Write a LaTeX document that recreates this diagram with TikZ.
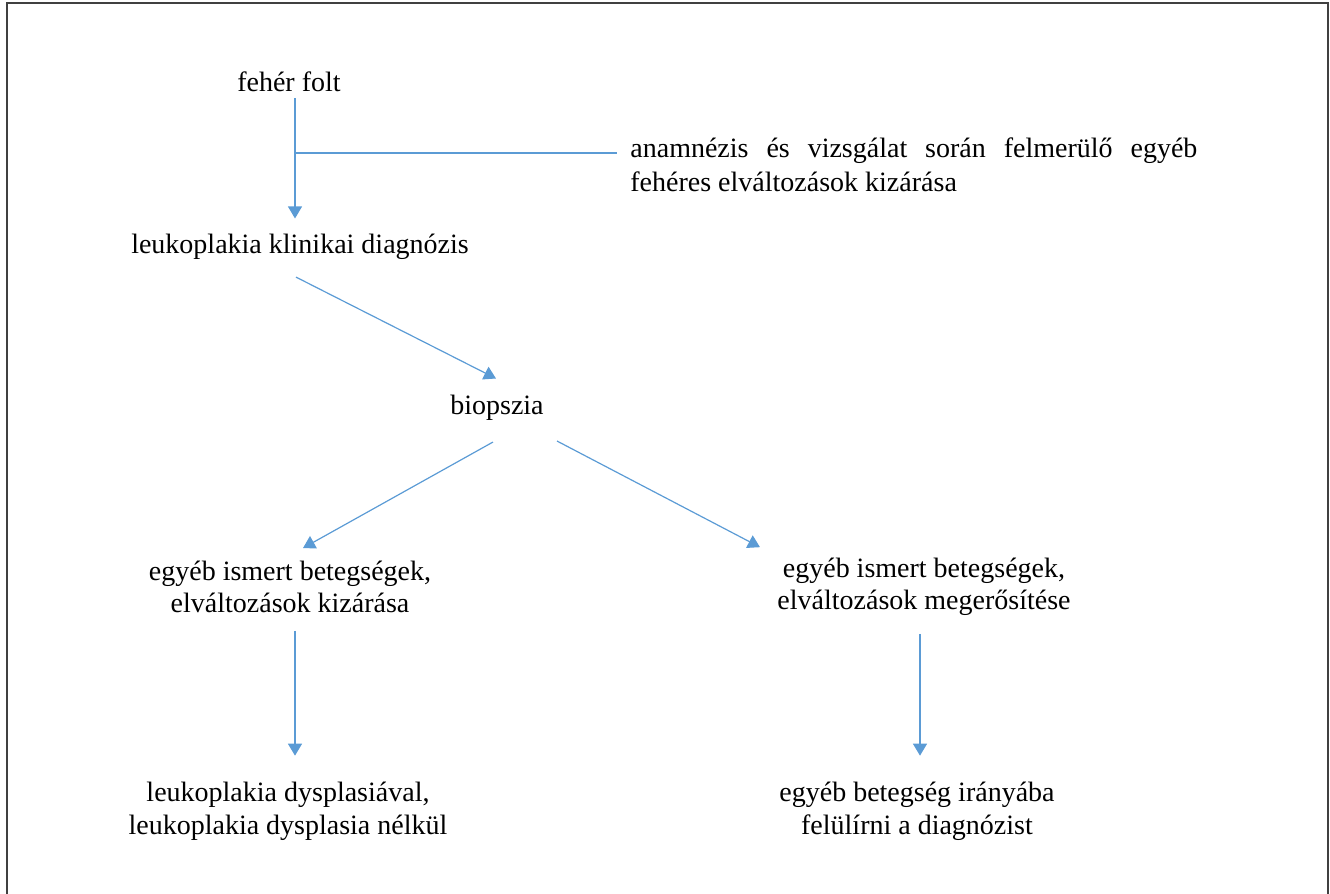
\documentclass[tikz,border=0pt]{standalone}
\usepackage{fontspec}
\setmainfont{Liberation Serif}
\usetikzlibrary{arrows.meta}
\definecolor{arrowblue}{RGB}{91,155,213}
\begin{document}
\begin{tikzpicture}[x=0.5pt,y=-0.5pt,
        txt/.style={font=\fontsize{14}{16}\selectfont, align=center},
        arr/.style={draw=arrowblue, line width=0.6pt, -{Triangle[width=7pt,length=6pt]}},
        frame/.style={draw=black!75, line width=0.8pt}]
        \useasboundingbox (0,0) rectangle (1330,894);
        \draw[frame] (7,894) -- (7,3) -- (1328,3) -- (1328,894);

        \node[txt, anchor=base] (feher) at (289,91) {fehér folt};
        \node[txt, anchor=base] (klin) at (300,253) {leukoplakia klinikai diagnózis};
        \node[txt, anchor=base] (bio) at (497,414) {biopszia};
        \node[txt] (midl) at (290,587) {egyéb ismert betegségek,\\ elváltozások kizárása};
        \node[txt] (midr) at (924,587) {egyéb ismert betegségek,\\ elváltozások megerősítése};
        \node[txt, font=\fontsize{14}{16.5}\selectfont] (botl) at (288,811) {leukoplakia dysplasiával,\\ leukoplakia dysplasia nélkül};
        \node[txt, font=\fontsize{14}{16.5}\selectfont] (botr) at (917,811) {egyéb betegség irányába\\ felülírni a diagnózist};
        \node[font=\fontsize{14}{17}\selectfont, text width=283.5pt, align=justify, inner xsep=6.5pt, inner ysep=0pt, anchor=north west]
                (excl) at (617,137) {anamnézis és vizsgálat során felmerülő egyéb\linebreak fehéres elváltozások kizárása};

        \coordinate (branch) at (295,153);
        \draw[arr] (feher.south -| branch) -- ([yshift=4pt]klin.north -| branch);
        \draw[arrowblue, line width=0.6pt] (branch) -- (branch -| excl.west);
        \draw[arr] ([xshift=-2pt,yshift=-5.5pt]klin.south) -- ([xshift=-0.5pt,yshift=4.5pt]bio.north);
        \draw[arr] ([xshift=-2pt,yshift=-7.5pt]bio.south) -- ([xshift=6.5pt,yshift=3pt]midl.north);
        \draw[arr] ([xshift=30pt,yshift=-7pt]bio.south) -- ([xshift=-82pt,yshift=2pt]midr.north);
        \draw[arr] ([xshift=2.5pt,yshift=-5.5pt]midl.south) -- ([xshift=3.5pt,yshift=9.5pt]botl.north);
        \draw[arr] ([xshift=-2pt,yshift=-5.5pt]midr.south) -- ([xshift=1.5pt,yshift=9.5pt]botr.north);
    \end{tikzpicture}
\end{document}
